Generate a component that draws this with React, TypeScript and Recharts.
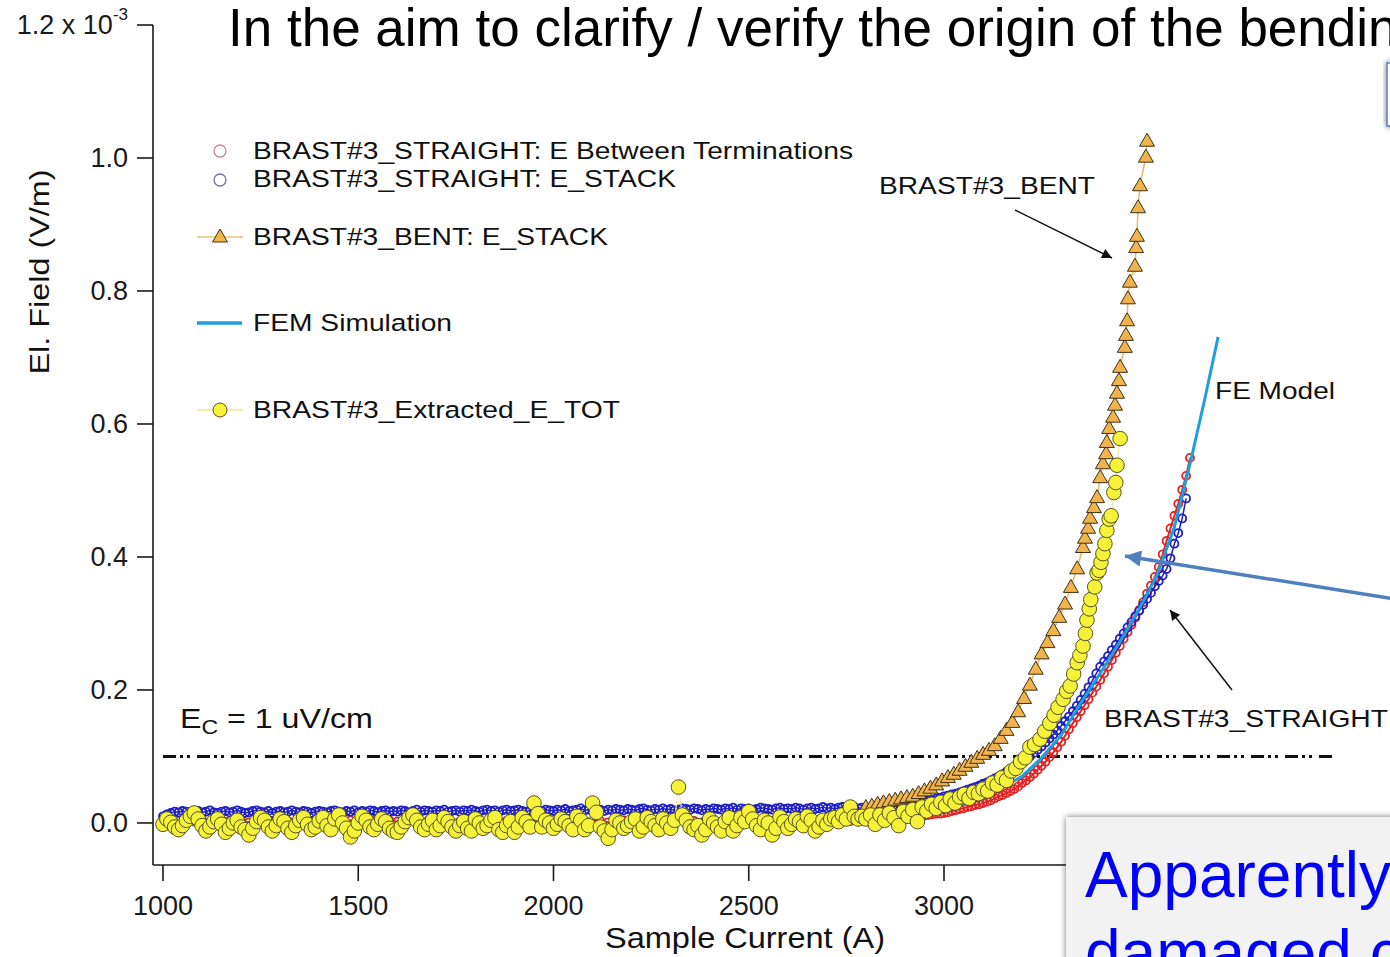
import React from 'react';
import { ScatterChart, Scatter, XAxis, YAxis, Legend } from 'recharts';

const FONT = '"Liberation Sans", Arial, Helvetica, sans-serif';

// sample current of the low-current (flat) part of the sweeps, A (10 A steps)
const flatCurrent = [
  1000, 1010, 1020, 1030, 1040, 1050, 1060, 1070, 1080, 1090,
  1100, 1110, 1120, 1130, 1140, 1150, 1160, 1170, 1180, 1190,
  1200, 1210, 1220, 1230, 1240, 1250, 1260, 1270, 1280, 1290,
  1300, 1310, 1320, 1330, 1340, 1350, 1360, 1370, 1380, 1390,
  1400, 1410, 1420, 1430, 1440, 1450, 1460, 1470, 1480, 1490,
  1500, 1510, 1520, 1530, 1540, 1550, 1560, 1570, 1580, 1590,
  1600, 1610, 1620, 1630, 1640, 1650, 1660, 1670, 1680, 1690,
  1700, 1710, 1720, 1730, 1740, 1750, 1760, 1770, 1780, 1790,
  1800, 1810, 1820, 1830, 1840, 1850, 1860, 1870, 1880, 1890,
  1900, 1910, 1920, 1930, 1940, 1950, 1960, 1970, 1980, 1990,
  2000, 2010, 2020, 2030, 2040, 2050, 2060, 2070, 2080, 2090,
  2100, 2110, 2120, 2130, 2140, 2150, 2160, 2170, 2180, 2190,
  2200, 2210, 2220, 2230, 2240, 2250, 2260, 2270, 2280, 2290,
  2300, 2310, 2320, 2330, 2340, 2350, 2360, 2370, 2380, 2390,
  2400, 2410, 2420, 2430, 2440, 2450, 2460, 2470, 2480, 2490,
  2500, 2510, 2520, 2530, 2540, 2550, 2560, 2570, 2580, 2590,
  2600, 2610, 2620, 2630, 2640, 2650, 2660, 2670, 2680, 2690,
  2700, 2710, 2720, 2730, 2740, 2750, 2760, 2770, 2780, 2790,
];

// terminations signal is logged on a coarser grid (20 A)
const termFlatCurrent = [
  1000, 1020, 1040, 1060, 1080, 1100, 1120, 1140, 1160, 1180,
  1200, 1220, 1240, 1260, 1280, 1300, 1320, 1340, 1360, 1380,
  1400, 1420, 1440, 1460, 1480, 1500, 1520, 1540, 1560, 1580,
  1600, 1620, 1640, 1660, 1680, 1700, 1720, 1740, 1760, 1780,
  1800, 1820, 1840, 1860, 1880, 1900, 1920, 1940, 1960, 1980,
  2000, 2020, 2040, 2060, 2080, 2100, 2120, 2140, 2160, 2180,
  2200, 2220, 2240, 2260, 2280, 2300, 2320, 2340, 2360, 2380,
  2400, 2420, 2440, 2460, 2480, 2500, 2520, 2540, 2560, 2580,
  2600, 2620, 2640, 2660, 2680, 2700, 2720, 2740, 2760, 2780,
];

// fields are in units of 1e-3 V/m
const termFlat = [
  0.002, 0.001, 0.003, 0.000, 0.002, 0.004, 0.001, 0.003, 0.002, 0.000,
  0.003, 0.001, 0.002, 0.004, 0.000, 0.002, 0.003, 0.001, 0.004, 0.002,
  0.001, 0.003, 0.002, 0.000, 0.004, 0.002, 0.001, 0.003, 0.002, 0.004,
  0.002, 0.000, 0.003, 0.001, 0.004, 0.002, 0.003, 0.001, 0.002, 0.004,
  0.003, 0.001, 0.004, 0.002, 0.003, 0.000, 0.002, 0.004, 0.001, 0.003,
  0.002, 0.004, 0.001, 0.003, 0.002, 0.004, 0.003, 0.001, 0.002, 0.004,
  0.003, 0.002, 0.004, 0.001, 0.003, 0.002, 0.004, 0.002, 0.003, 0.001,
  0.004, 0.002, 0.003, 0.001, 0.004, 0.003, 0.002, 0.004, 0.003, 0.002,
  0.003, 0.004, 0.002, 0.003, 0.004, 0.002, 0.003, 0.004, 0.003, 0.004,
];

const stackFlat = [
  0.010, 0.013, 0.015, 0.017, 0.016, 0.018, 0.017, 0.015, 0.016, 0.018,
  0.016, 0.017, 0.019, 0.016, 0.015, 0.017, 0.018, 0.016, 0.017, 0.019,
  0.017, 0.015, 0.016, 0.018, 0.019, 0.017, 0.016, 0.018, 0.015, 0.017,
  0.018, 0.016, 0.017, 0.019, 0.017, 0.016, 0.018, 0.017, 0.015, 0.017,
  0.018, 0.017, 0.016, 0.018, 0.019, 0.017, 0.016, 0.018, 0.017, 0.019,
  0.016, 0.018, 0.017, 0.019, 0.018, 0.016, 0.018, 0.019, 0.017, 0.018,
  0.017, 0.019, 0.018, 0.016, 0.018, 0.020, 0.017, 0.019, 0.018, 0.017,
  0.019, 0.018, 0.020, 0.017, 0.018, 0.019, 0.017, 0.019, 0.018, 0.020,
  0.018, 0.017, 0.019, 0.020, 0.018, 0.019, 0.017, 0.019, 0.020, 0.018,
  0.019, 0.020, 0.018, 0.017, 0.019, 0.021, 0.019, 0.018, 0.020, 0.019,
  0.018, 0.020, 0.019, 0.021, 0.018, 0.019, 0.020, 0.022, 0.019, 0.020,
  0.019, 0.021, 0.020, 0.018, 0.020, 0.019, 0.021, 0.020, 0.019, 0.021,
  0.020, 0.019, 0.021, 0.022, 0.020, 0.019, 0.021, 0.020, 0.022, 0.020,
  0.021, 0.019, 0.020, 0.022, 0.021, 0.020, 0.022, 0.021, 0.019, 0.021,
  0.020, 0.022, 0.021, 0.020, 0.022, 0.021, 0.023, 0.020, 0.022, 0.021,
  0.022, 0.020, 0.021, 0.023, 0.022, 0.021, 0.020, 0.022, 0.023, 0.021,
  0.022, 0.021, 0.023, 0.022, 0.020, 0.022, 0.023, 0.021, 0.022, 0.024,
  0.022, 0.023, 0.021, 0.023, 0.024, 0.022, 0.023, 0.024, 0.022, 0.023,
];

const extractedFlat = [
  -0.002, 0.006, 0.001, -0.006, -0.010, -0.004, 0.004, 0.010, 0.015, 0.006,
  -0.004, -0.012, -0.006, 0.002, 0.006, -0.002, -0.014, -0.008, 0.000, 0.004,
  -0.006, -0.010, -0.018, -0.008, 0.002, 0.008, 0.004, -0.006, -0.012, -0.004,
  0.006, 0.002, -0.008, -0.014, -0.004, 0.004, 0.008, -0.002, -0.010, -0.006,
  0.003, 0.008, -0.004, -0.010, 0.006, 0.012, 0.000, -0.008, -0.021, -0.012,
  0.000, 0.010, 0.004, -0.006, -0.010, -0.002, 0.006, 0.002, -0.008, -0.012,
  -0.014, -0.006, 0.002, 0.008, 0.012, 0.004, -0.006, -0.010, -0.002, 0.004,
  -0.010, -0.004, 0.008, 0.002, -0.006, -0.012, -0.004, 0.002, -0.008, -0.012,
  0.006, 0.000, -0.008, -0.004, 0.004, 0.008, -0.010, -0.014, -0.004, 0.002,
  -0.014, -0.006, 0.008, 0.002, -0.006, 0.030, 0.014, -0.006, 0.004, 0.000,
  -0.008, -0.002, 0.006, 0.002, -0.004, -0.010, 0.010, 0.004, -0.010, -0.004,
  0.030, 0.016, -0.006, -0.012, -0.023, -0.010, 0.004, 0.000, -0.008, -0.004,
  0.002, 0.006, -0.012, -0.006, 0.008, 0.002, -0.004, -0.010, 0.006, 0.000,
  -0.008, 0.004, 0.054, 0.012, 0.004, -0.006, -0.010, -0.004, -0.018, -0.010,
  0.006, 0.000, -0.006, -0.012, 0.002, 0.008, -0.012, -0.004, 0.008, 0.002,
  0.017, 0.006, -0.004, -0.010, 0.004, 0.000, -0.018, -0.008, 0.009, 0.002,
  -0.008, -0.002, 0.006, 0.002, -0.004, 0.010, 0.004, -0.012, -0.006, 0.004,
  -0.002, 0.006, 0.008, 0.002, 0.012, 0.006, 0.024, 0.010, 0.006, 0.010,
];

// straight sample, transition region (10 A steps)
const straightRiseCurrent = [
  2800, 2810, 2820, 2830, 2840, 2850, 2860, 2870, 2880, 2890,
  2900, 2910, 2920, 2930, 2940, 2950, 2960, 2970, 2980, 2990,
  3000, 3010, 3020, 3030, 3040, 3050, 3060, 3070, 3080, 3090,
  3100, 3110, 3120, 3130, 3140, 3150, 3160, 3170, 3180, 3190,
  3200, 3210, 3220, 3230, 3240, 3250, 3260, 3270, 3280, 3290,
  3300, 3310, 3320, 3330, 3340, 3350, 3360, 3370, 3380, 3390,
  3400, 3410, 3420, 3430, 3440, 3450, 3460, 3470, 3480, 3490,
  3500, 3510, 3520, 3530, 3540, 3550, 3560, 3570, 3580, 3590,
  3600, 3610, 3620, 3630,
];

const termRise = [
  0.004, 0.004, 0.005, 0.005, 0.006, 0.006, 0.007, 0.007, 0.008, 0.008,
  0.009, 0.009, 0.010, 0.010, 0.011, 0.011, 0.012, 0.013, 0.014, 0.014,
  0.015, 0.016, 0.018, 0.019, 0.021, 0.022, 0.024, 0.025, 0.027, 0.028,
  0.030, 0.032, 0.034, 0.037, 0.040, 0.042, 0.045, 0.048, 0.051, 0.055,
  0.060, 0.064, 0.069, 0.074, 0.080, 0.086, 0.092, 0.099, 0.106, 0.114,
  0.122, 0.131, 0.141, 0.150, 0.159, 0.168, 0.177, 0.186, 0.196, 0.205,
  0.215, 0.225, 0.235, 0.245, 0.256, 0.266, 0.277, 0.287, 0.298, 0.309,
  0.320, 0.332, 0.345, 0.357, 0.370, 0.385, 0.404, 0.424, 0.443, 0.462,
  0.480, 0.501, 0.522, 0.549,
];

const stackRise = [
  0.023, 0.023, 0.024, 0.024, 0.025, 0.025, 0.026, 0.026, 0.027, 0.027,
  0.028, 0.029, 0.030, 0.031, 0.032, 0.033, 0.034, 0.035, 0.037, 0.038,
  0.040, 0.041, 0.043, 0.044, 0.046, 0.048, 0.050, 0.052, 0.054, 0.056,
  0.059, 0.061, 0.064, 0.067, 0.070, 0.073, 0.077, 0.080, 0.084, 0.088,
  0.092, 0.096, 0.100, 0.105, 0.110, 0.115, 0.121, 0.127, 0.133, 0.139,
  0.146, 0.153, 0.160, 0.168, 0.176, 0.185, 0.194, 0.204, 0.214, 0.225,
  0.235, 0.243, 0.251, 0.260, 0.268, 0.277, 0.285, 0.294, 0.302, 0.311,
  0.319, 0.328, 0.337, 0.346, 0.356, 0.364, 0.372, 0.382, 0.398, 0.420,
  0.436, 0.458, 0.488,
];

const bentCurrent = [
  2800, 2815, 2830, 2845, 2860, 2875, 2890, 2905, 2920, 2935,
  2950, 2965, 2980, 2995, 3010, 3025, 3040, 3055, 3070, 3085,
  3100, 3115, 3130, 3145, 3160, 3175, 3190, 3205, 3220, 3235,
  3250, 3265, 3280, 3295, 3310, 3325, 3341, 3356, 3361, 3369,
  3374, 3384, 3392, 3400, 3407, 3415, 3417, 3423, 3433, 3438,
  3443, 3448, 3451, 3463, 3466, 3469, 3471, 3476, 3489, 3492,
  3494, 3497, 3502, 3517, 3520,
];

const bentField = [
  0.024, 0.026, 0.029, 0.031, 0.033, 0.035, 0.037, 0.039, 0.041, 0.045,
  0.049, 0.053, 0.058, 0.064, 0.069, 0.074, 0.080, 0.086, 0.092, 0.098,
  0.104, 0.110, 0.117, 0.128, 0.140, 0.152, 0.168, 0.188, 0.208, 0.232,
  0.255, 0.272, 0.290, 0.310, 0.330, 0.355, 0.383, 0.415, 0.429, 0.444,
  0.459, 0.475, 0.490, 0.520, 0.541, 0.556, 0.573, 0.594, 0.611, 0.629,
  0.647, 0.666, 0.686, 0.716, 0.734, 0.756, 0.789, 0.814, 0.838, 0.866,
  0.883, 0.926, 0.959, 1.002, 1.026,
];

const extractedRiseCurrent = [
  2800, 2812, 2824, 2836, 2848, 2860, 2872, 2884, 2896, 2908,
  2920, 2932, 2944, 2956, 2968, 2980, 2992, 3004, 3016, 3028,
  3040, 3052, 3064, 3076, 3088, 3100, 3112, 3124, 3136, 3148,
  3160, 3172, 3184, 3196, 3208, 3220, 3232, 3246, 3258, 3271,
  3282, 3292, 3305, 3314, 3323, 3332, 3341, 3348, 3356, 3362,
  3366, 3372, 3376, 3386, 3392, 3397, 3402, 3407, 3412, 3417,
  3423, 3428, 3435, 3440, 3443, 3451,
];

const extractedRise = [
  0.006, 0.012, -0.002, 0.012, 0.004, 0.015, 0.008, -0.004, 0.017, 0.010,
  0.020, 0.002, 0.024, 0.018, 0.028, 0.022, 0.031, 0.026, 0.036, 0.030,
  0.039, 0.043, 0.037, 0.046, 0.044, 0.051, 0.048, 0.060, 0.057, 0.068,
  0.064, 0.078, 0.082, 0.092, 0.098, 0.114, 0.118, 0.126, 0.138, 0.150,
  0.162, 0.174, 0.186, 0.198, 0.206, 0.224, 0.241, 0.252, 0.266, 0.285,
  0.305, 0.322, 0.336, 0.355, 0.376, 0.380, 0.392, 0.405, 0.420, 0.440,
  0.457, 0.462, 0.497, 0.512, 0.538, 0.578,
];

const femCurrent = [2900, 3000, 3100, 3200, 3250, 3300, 3350, 3400, 3450, 3500, 3545, 3590, 3630, 3665, 3702];
const femField = [0.010, 0.020, 0.038, 0.070, 0.098, 0.132, 0.180, 0.225, 0.272, 0.322, 0.372, 0.445, 0.540, 0.630, 0.731];

// critical field E_C = 1 uV/cm
const ecCurrent = [1000, 4000];
const ecField = [0.1, 0.1];

const xTicks = [1000, 1500, 2000, 2500, 3000];
const yTicks = [0, 0.2, 0.4, 0.6, 0.8, 1.0, 1.2];

const pts = (xs: number[], ys: number[]) => ys.map((y, i) => ({ x: xs[i], y }));

const termData = [...pts(termFlatCurrent, termFlat), ...pts(straightRiseCurrent, termRise)];
const stackData = [...pts(flatCurrent, stackFlat), ...pts(straightRiseCurrent, stackRise)];
const extractedData = [...pts(flatCurrent, extractedFlat), ...pts(extractedRiseCurrent, extractedRise)];
const bentData = pts(bentCurrent, bentField);
const femData = pts(femCurrent, femField);
const ecData = pts(ecCurrent, ecField);

const openCircle = (color: string) => (p: any) => (
  <circle cx={p.cx} cy={p.cy} r={4} fill="none" stroke={color} strokeWidth={1.8} />
);

const yellowDot = (p: any) => (
  <circle cx={p.cx} cy={p.cy} r={7.3} fill="#f6f23a" stroke="#55521c" strokeWidth={1} />
);

const triangle = (p: any) => (
  <polygon
    points={`${p.cx},${p.cy - 7.5} ${p.cx - 7.5},${p.cy + 5.5} ${p.cx + 7.5},${p.cy + 5.5}`}
    fill="#f1b44c"
    stroke="#3d3018"
    strokeWidth={1}
  />
);

const noMarker = () => <g />;

const XTick = ({ x, y, payload }: any) => (
  <text x={x} y={y + 32} textAnchor="middle" fontSize={27} fill="#1a1a1a" fontFamily={FONT}>
    {payload.value}
  </text>
);

const YTick = ({ x, y, payload }: any) => {
  const v = payload.value as number;
  if (v === 1.2) {
    return (
      <text x={x - 7} y={y + 9} textAnchor="end" fontSize={27} fill="#1a1a1a" fontFamily={FONT}>
        1.2 x 10
        <tspan dy={-14} fontSize={17}>-3</tspan>
      </text>
    );
  }
  return (
    <text x={x - 7} y={y + 9} textAnchor="end" fontSize={27} fill="#1a1a1a" fontFamily={FONT}>
      {v.toFixed(1)}
    </text>
  );
};

const LegendContent = () => (
  <svg width={700} height={310} style={{ display: 'block', overflow: 'visible' }}>
    <g transform="translate(-190 -125)" fontFamily={FONT} fill="#111">
      <circle cx={220} cy={151} r={6} fill="none" stroke="#c98a8a" strokeWidth={1.3} />
      <text x={253} y={159} fontSize={24.5} textLength={600} lengthAdjust="spacingAndGlyphs">
        BRAST#3_STRAIGHT: E Between Terminations
      </text>
      <circle cx={220} cy={180} r={6} fill="none" stroke="#7474ad" strokeWidth={1.3} />
      <text x={253} y={187} fontSize={24.5} textLength={423} lengthAdjust="spacingAndGlyphs">
        BRAST#3_STRAIGHT: E_STACK
      </text>
      <line x1={197} y1={237} x2={243} y2={237} stroke="#e8c27a" strokeWidth={1.5} />
      <polygon points="220,229 212.5,242 227.5,242" fill="#f1b44c" stroke="#3d3018" strokeWidth={1} />
      <text x={253} y={245} fontSize={24.5} textLength={355} lengthAdjust="spacingAndGlyphs">
        BRAST#3_BENT: E_STACK
      </text>
      <line x1={197} y1={323} x2={242} y2={323} stroke="#1e9fdc" strokeWidth={3.5} />
      <text x={253} y={331} fontSize={24.5} textLength={199} lengthAdjust="spacingAndGlyphs">
        FEM Simulation
      </text>
      <line x1={197} y1={410} x2={243} y2={410} stroke="#eeec9a" strokeWidth={1.5} />
      <circle cx={220} cy={410} r={7} fill="#f6f23a" stroke="#55521c" strokeWidth={1} />
      <text x={253} y={418} fontSize={24.5} textLength={367} lengthAdjust="spacingAndGlyphs">
        BRAST#3_Extracted_E_TOT
      </text>
    </g>
  </svg>
);

const Overlay = () => (
  <svg
    width={1390}
    height={957}
    style={{ position: 'absolute', left: 0, top: 0, pointerEvents: 'none' }}
    fontFamily={FONT}
  >
    <defs>
      <marker id="blackHead" viewBox="0 0 10 10" refX={10} refY={5} markerWidth={15} markerHeight={10} markerUnits="userSpaceOnUse" orient="auto">
        <path d="M0,0 L10,5 L0,10 z" fill="#111" />
      </marker>
      <marker id="blueHead" viewBox="0 0 10 10" refX={10} refY={5} markerWidth={20} markerHeight={16} markerUnits="userSpaceOnUse" orient="auto">
        <path d="M0,0 L10,5 L0,10 z" fill="#4f7fbd" />
      </marker>
      <filter id="shadow" x="-10%" y="-10%" width="120%" height="130%">
        <feDropShadow dx={0} dy={0} stdDeviation={3} floodColor="#000" floodOpacity={0.55} />
      </filter>
    </defs>

    {/* slide title */}
    <text x={228} y={46} fontSize={53} fill="#000">
      In the aim to clarify / verify the origin of the bending
    </text>

    {/* axis titles */}
    <text
      x={0}
      y={0}
      transform="translate(49 272) rotate(-90)"
      textAnchor="middle"
      fontSize={28}
      fill="#111"
      textLength={205}
      lengthAdjust="spacingAndGlyphs"
    >
      El. Field (V/m)
    </text>
    <text x={605} y={948} fontSize={29} fill="#111" textLength={280} lengthAdjust="spacingAndGlyphs">
      Sample Current (A)
    </text>

    {/* E_C label */}
    <text x={0} y={0} transform="translate(180 728) scale(1.15 1)" fontSize={28} fill="#111">
      E<tspan fontSize={20} dy={6}>C</tspan>
      <tspan dy={-6}> = 1 uV/cm</tspan>
    </text>

    {/* curve annotations */}
    <text x={879} y={194} fontSize={24.5} fill="#111" textLength={216} lengthAdjust="spacingAndGlyphs">
      BRAST#3_BENT
    </text>
    <line x1={1015} y1={210} x2={1112} y2={258} stroke="#111" strokeWidth={1.5} markerEnd="url(#blackHead)" />
    <text x={1215} y={399} fontSize={24.5} fill="#111" textLength={120} lengthAdjust="spacingAndGlyphs">
      FE Model
    </text>
    <text x={1104} y={727} fontSize={24.5} fill="#111" textLength={284} lengthAdjust="spacingAndGlyphs">
      BRAST#3_STRAIGHT
    </text>
    <line x1={1232} y1={690} x2={1170} y2={610} stroke="#111" strokeWidth={1.5} markerEnd="url(#blackHead)" />

    {/* slide call-out arrow */}
    <line x1={1395} y1={599} x2={1125} y2={556} stroke="#4f7fbd" strokeWidth={3.5} markerEnd="url(#blueHead)" />

    {/* slide text boxes */}
    <rect x={1387} y={63} width={40} height={63} fill="#fff" stroke="#5a7fb0" strokeWidth={1.5} filter="url(#shadow)" />
    <rect x={1066} y={817} width={420} height={200} fill="#f2f2f2" filter="url(#shadow)" />
    <text x={1085} y={897} fontSize={64} fill="#0000ff">
      Apparently
    </text>
    <text x={1085} y={975} fontSize={64} fill="#0000ff">
      damaged c
    </text>
  </svg>
);

export default function App() {
  return (
    <div
      style={{
        position: 'absolute',
        left: 0,
        top: 0,
        width: 1390,
        height: 957,
        overflow: 'hidden',
        background: '#fff',
        fontFamily: FONT,
      }}
    >
      <ScatterChart
        width={1390}
        height={957}
        margin={{ top: 25, right: 53, bottom: 0, left: 0 }}
        style={{ fontFamily: FONT }}
      >
        <XAxis
          type="number"
          dataKey="x"
          domain={[974.4, 4006.4]}
          ticks={xTicks}
          interval={0}
          allowDataOverflow
          height={92}
          tickSize={16}
          axisLine={{ stroke: '#1a1a1a', strokeWidth: 1.6 }}
          tickLine={{ stroke: '#1a1a1a', strokeWidth: 1.6 }}
          tick={XTick}
        />
        <YAxis
          type="number"
          dataKey="y"
          domain={[-0.0632, 1.2]}
          ticks={yTicks}
          interval={0}
          allowDataOverflow
          width={153}
          tickSize={16}
          axisLine={{ stroke: '#1a1a1a', strokeWidth: 1.6 }}
          tickLine={{ stroke: '#1a1a1a', strokeWidth: 1.6 }}
          tick={YTick}
        />
        <Legend
          layout="vertical"
          align="center"
          verticalAlign="middle"
          content={LegendContent}
          wrapperStyle={{ left: 190, top: 125, width: 700, height: 310 }}
        />
        <Scatter
          name="E_C"
          data={ecData}
          shape={noMarker}
          line={{ stroke: '#111', strokeWidth: 3, strokeDasharray: '13 4 3 4 3 7' }}
          isAnimationActive={false}
        />
        <Scatter
          name="BRAST#3_STRAIGHT: E Between Terminations"
          data={termData}
          shape={openCircle('#e32424')}
          line={{ stroke: '#e32424', strokeWidth: 2 }}
          isAnimationActive={false}
        />
        <Scatter
          name="BRAST#3_STRAIGHT: E_STACK"
          data={stackData}
          shape={openCircle('#1f1fc4')}
          line={{ stroke: '#1f1fc4', strokeWidth: 1.5 }}
          isAnimationActive={false}
        />
        <Scatter
          name="FEM Simulation"
          data={femData}
          shape={noMarker}
          line={{ stroke: '#1e9fdc', strokeWidth: 3 }}
          isAnimationActive={false}
        />
        <Scatter
          name="BRAST#3_BENT: E_STACK"
          data={bentData}
          shape={triangle}
          line={{ stroke: '#e8b860', strokeWidth: 1.5 }}
          isAnimationActive={false}
        />
        <Scatter
          name="BRAST#3_Extracted_E_TOT"
          data={extractedData}
          shape={yellowDot}
          line={{ stroke: '#eeec9a', strokeWidth: 1.2 }}
          isAnimationActive={false}
        />
      </ScatterChart>
      <Overlay />
    </div>
  );
}
